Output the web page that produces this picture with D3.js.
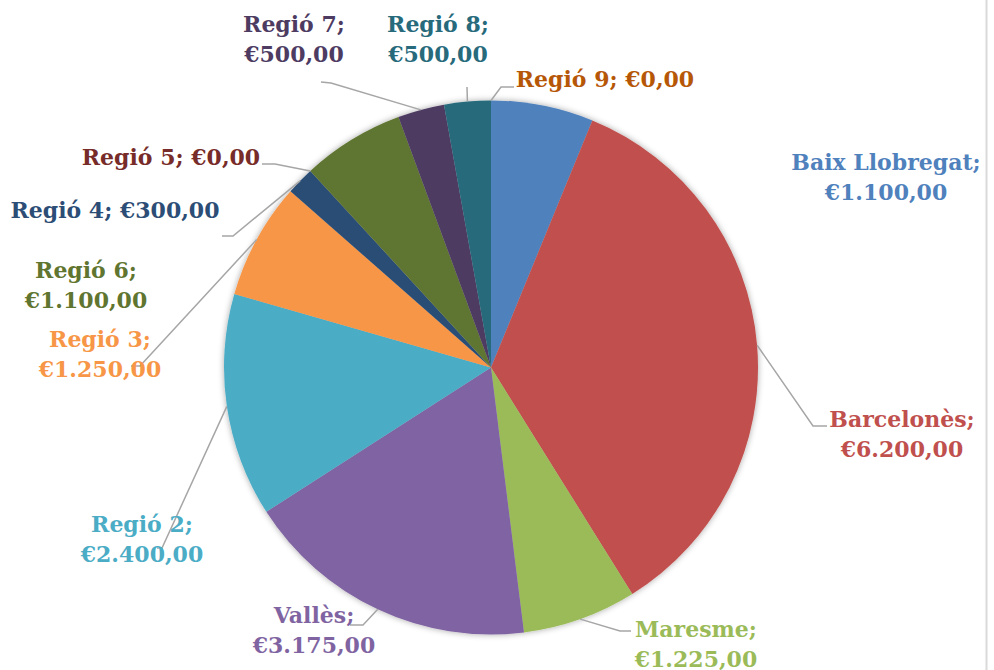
<!DOCTYPE html>
<html><head><meta charset="utf-8">
<script src="https://cdn.jsdelivr.net/npm/d3@7"></script>
<style>html,body{margin:0;padding:0;background:#fff;}svg{display:block;}</style>
</head><body>
<script>
const categories = ["Baix Llobregat","Barcelonès","Maresme","Vallès","Regió 2","Regió 3","Regió 4","Regió 5","Regió 6","Regió 7","Regió 8","Regió 9"];
const values = [1100,6200,1225,3175,2400,1250,300,0,1100,500,500,0];
const colors = ["#4F81BD","#C0504D","#9BBB59","#8064A2","#4BACC6","#F79646","#2C4D75","#772C2A","#5F7530","#4D3B62","#276A7C","#B65708"];

// label layout: text centre x, first baseline y, line split, leader bend points
const labelLayout = {
  "Baix Llobregat": {x:886, y:170, two:true, leader:null},
  "Barcelonès": {x:902, y:427, two:true, leader:[[813,426],[827,426]]},
  "Maresme": {x:696, y:637, two:true, leader:[[620,631],[631,631]]},
  "Vallès": {x:314, y:623, two:true, leader:[[363,625],[350,625]]},
  "Regió 2": {x:142, y:532, two:true, leader:[[162,548],[157,548]]},
  "Regió 3": {x:100, y:347, two:true, leader:[[140,366],[131,366]]},
  "Regió 4": {x:115, y:218, two:false, leader:[[233,236],[222,236]]},
  "Regió 5": {x:171, y:165, two:false, leader:[[275,164],[262,164]]},
  "Regió 6": {x:86, y:278, two:true, leader:null},
  "Regió 7": {x:294, y:32, two:true, leader:[[331,83],[321,82]]},
  "Regió 8": {x:438, y:32, two:true, leader:[[467,87]]},
  "Regió 9": {x:605, y:87, two:false, leader:[[501,87],[514,87]]}
};

const W = 994, H = 670, cx = 491, cy = 367.5, R = 267;
const fmt = v => "€" + d3.format(",.2f")(v).replace(/,/g,"#").replace(".",",").replace(/#/g,".");

const svg = d3.select("body").append("svg").attr("width",W).attr("height",H);
const defs = svg.append("defs");
const f = defs.append("filter").attr("id","sh").attr("x","-10%").attr("y","-10%").attr("width","120%").attr("height","120%");
f.append("feDropShadow").attr("dx",0).attr("dy",0).attr("stdDeviation",3).attr("flood-color","#000").attr("flood-opacity",0.35);

svg.append("line").attr("x1",986.5).attr("x2",986.5).attr("y1",0).attr("y2",H).attr("stroke","#d9d9d9").attr("stroke-width",2);

const data = categories.map((c,i)=>({name:c,value:values[i],color:colors[i]}));
const pie = d3.pie().value(d=>d.value).sort(null);
const arcs = pie(data);
const arc = d3.arc().innerRadius(0).outerRadius(R);

const g = svg.append("g").attr("transform",`translate(${cx},${cy})`);
g.append("g").attr("filter","url(#sh)").selectAll("path").data(arcs).join("path")
  .attr("d",arc).attr("fill",d=>d.data.color);

const lines = svg.append("g");
const labels = svg.append("g");
arcs.forEach(a=>{
  const L = labelLayout[a.data.name];
  const mid = (a.startAngle + a.endAngle)/2;
  const sx = cx + R*Math.sin(mid), sy = cy - R*Math.cos(mid);
  if (L.leader){
    const pts = [[sx,sy]].concat(L.leader);
    lines.append("path").attr("d",d3.line()(pts)).attr("fill","none").attr("stroke","#a6a6a6").attr("stroke-width",1.5);
  }
  const t = labels.append("text").attr("x",L.x).attr("y",L.y).attr("text-anchor","middle")
    .attr("fill",a.data.color).attr("font-family","'DejaVu Serif', serif").attr("font-weight","bold").attr("font-size",22);
  if (L.two){
    t.append("tspan").attr("x",L.x).text(a.data.name + ";");
    t.append("tspan").attr("x",L.x).attr("dy",30).text(fmt(a.data.value));
  } else {
    t.text(a.data.name + "; " + fmt(a.data.value));
  }
});
</script>
</body></html>
